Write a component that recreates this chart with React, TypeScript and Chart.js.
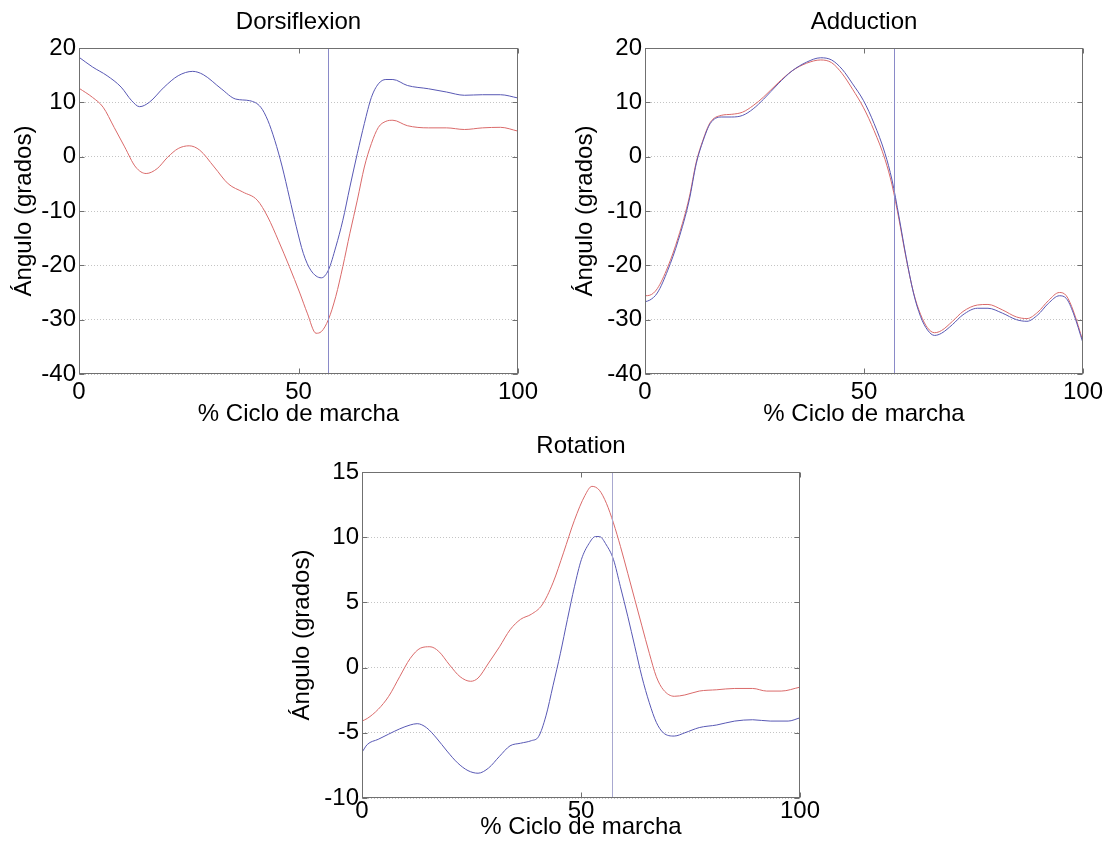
import React, { useEffect, useRef } from "react";
import { Chart, registerables } from "chart.js";
Chart.register(...registerables);

const FONT = "'Liberation Sans', Arial, Helvetica, sans-serif";
const BLUE = "#5858b4";
const RED = "#da6a6a";

const pctTicks = [0, 50, 100];
const toeOffPct = [56.8, 56.8, 57];
const titles = ["Dorsiflexion", "Adduction", "Rotation"];
const xTitle = "% Ciclo de marcha";
const yTitle = "Ángulo (grados)";

// Dorsiflexion
const dorsiBlueX = [0, 3.1, 6.4, 9.6, 12, 13.8, 16, 19.4, 22.6, 25.9, 28.3, 32.4, 35.7, 38.9, 41.4, 43, 44.6, 46.3, 47.9, 49.5, 51.1, 52.8, 55.2, 56.8, 58.5, 60.1, 61.7, 63.4, 65, 66.6, 68.2, 69.9, 71.5, 74.8, 79.6, 83.7, 87.8, 91.9, 96, 100];
const dorsiBlueY = [18.3, 16.5, 14.9, 12.8, 10.3, 9.2, 10, 12.8, 14.9, 15.7, 15.1, 12.5, 10.6, 10.3, 9.1, 6.7, 3, -1.9, -7.4, -12.9, -17.8, -20.9, -22.3, -20.9, -16.6, -11.7, -5.6, 0.6, 6.1, 10.9, 13.4, 14.2, 14.2, 13.1, 12.5, 11.9, 11.3, 11.4, 11.4, 10.8];
const dorsiRedX = [0, 3.1, 5.5, 8, 10.4, 12.9, 15.3, 17.8, 20.2, 22.6, 25.1, 27.5, 30.8, 34, 37.3, 40.6, 43, 45.4, 47.9, 50.3, 52, 54, 55.2, 56.8, 58.5, 60.1, 61.7, 63.4, 65, 66.6, 68.2, 69.9, 71.5, 74.8, 79.6, 83.7, 87.8, 91.9, 96, 100];
const dorsiRedY = [12.6, 10.9, 9.1, 5.4, 1.8, -1.9, -3.1, -2.2, -0.1, 1.5, 2, 1.2, -1.9, -5, -6.5, -8, -11.1, -15.4, -20.2, -25.1, -28.8, -32.5, -32.2, -30, -25.7, -20.2, -14.1, -8, -1.9, 2.4, 5.4, 6.5, 6.7, 5.7, 5.3, 5.3, 5, 5.3, 5.4, 4.7];

// Adduction
const adducX = [0, 1.1, 2.8, 5.2, 7.6, 10.1, 11.7, 13.3, 14.9, 17.4, 19.8, 22.3, 24.7, 27.1, 30.4, 33.6, 36.9, 40.1, 42.6, 45, 47.4, 49.9, 52.3, 54.8, 56.4, 58, 59.6, 61.3, 62.9, 64.5, 66.1, 67.7, 70.2, 72.6, 75.9, 78.3, 81.6, 84.8, 87.2, 89.7, 92.1, 94.6, 96.2, 97.8, 100];
const adducBlueY = [-26.7, -26.4, -25.1, -20.9, -15.4, -8, -1.3, 3, 6.1, 7.3, 7.3, 7.6, 8.8, 10.6, 13.4, 15.8, 17.4, 18.2, 17.8, 16.1, 13.4, 10.3, 6.1, 0.6, -4.3, -11.1, -18.4, -25.1, -29.4, -31.9, -32.9, -32.5, -30.9, -29.1, -27.9, -27.9, -28.8, -30, -30.3, -29.1, -27, -25.6, -26.1, -28.8, -34.3];
const adducRedY = [-25.6, -25.5, -24.3, -20.3, -14.8, -7.5, -1.0, 3.2, 6.3, 7.6, 7.8, 8.2, 9.4, 11.0, 13.6, 15.8, 17.2, 17.8, 17.3, 15.3, 12.4, 9.0, 4.8, -0.5, -5.2, -11.6, -18.6, -25.0, -29.0, -31.5, -32.4, -32.0, -30.3, -28.5, -27.3, -27.2, -28.2, -29.5, -29.8, -28.6, -26.5, -25.0, -25.6, -28.4, -34.0];

// Rotation
const rotRedX = [0, 1.2, 3.7, 6.1, 8.6, 11, 13.4, 15.5, 17.5, 20, 22.4, 24.8, 26.5, 28.9, 31.4, 33.8, 36.2, 38.7, 41.1, 43.6, 46, 48.5, 50.9, 52.5, 54.2, 55.8, 57.4, 59, 60.7, 62.3, 63.9, 65.6, 67.2, 68.8, 71.3, 73.7, 77, 81, 85.1, 89.2, 92.4, 95.7, 100];
const rotRedY = [-4.1, -3.9, -3.2, -2.2, -0.7, 0.7, 1.5, 1.6, 1.25, 0.2, -0.7, -1.05, -0.8, 0.35, 1.6, 2.9, 3.7, 4.1, 4.8, 6.5, 8.8, 11.3, 13.2, 13.9, 13.6, 12.6, 11.1, 9.3, 7.2, 5.2, 3.2, 1.1, -0.7, -1.7, -2.2, -2.1, -1.8, -1.7, -1.6, -1.6, -1.8, -1.8, -1.5];
const rotBlueX = [0, 1.2, 3.7, 6.1, 8.6, 11, 12.6, 14.7, 17, 19.4, 21.8, 24.2, 26.5, 28.9, 31.4, 33.8, 36.2, 38.7, 40.3, 42, 43.6, 45.3, 46.9, 48.5, 50.1, 51.8, 53.3, 54.2, 55.8, 57.4, 59, 60.7, 62.3, 63.9, 65.6, 67.2, 68.8, 71.3, 73.7, 77, 81, 85.1, 89.2, 93.2, 97.3, 100];
const rotBlueY = [-6.5, -5.9, -5.5, -5.1, -4.7, -4.4, -4.3, -4.6, -5.4, -6.4, -7.3, -7.9, -8.1, -7.7, -6.8, -6.0, -5.8, -5.6, -5.3, -3.7, -1.4, 1.1, 3.7, 6.2, 8.3, 9.5, 10.05, 10.05, 9.4, 8.3, 6.2, 3.9, 1.6, -0.7, -2.7, -4.2, -5.0, -5.25, -5.0, -4.6, -4.4, -4.1, -4.0, -4.1, -4.1, -3.85];

const zip = (xs: number[], ys: number[]) => xs.map((x, i) => ({ x, y: ys[i] }));

type PanelProps = {
  left: number; top: number; width: number; height: number;
  cLeft: number; cTop: number; cRight: number; cBottom: number;
  title: string; titleY: number;
  yMin: number; yMax: number; yStep: number;
  blue: { x: number; y: number }[]; red: { x: number; y: number }[];
  vline: number; vlineColor: string;
  yTitleX: number; xTickPad: number; xTitleY: number;
};

const FS = 24;
const LH = FS * 1.2;

function Panel(p: PanelProps) {
  const ref = useRef<HTMLCanvasElement>(null);
  useEffect(() => {
    const canvas = ref.current!;
    const yTitlePad = p.yTitleX - p.left - LH / 2;
    const xTitlePad = p.top + p.height - p.xTitleY - LH / 2;

    const boxPlugin = {
      id: "box",
      afterDatasetsDraw(chart: any) {
        const { ctx, chartArea: a, scales } = chart;
        ctx.save();
        // toe-off marker
        const vx = Math.round(scales.x.getPixelForValue(p.vline)) + 0.5;
        ctx.strokeStyle = p.vlineColor;
        ctx.lineWidth = 1;
        ctx.beginPath();
        ctx.moveTo(vx, a.top);
        ctx.lineTo(vx, a.bottom);
        ctx.stroke();
        // axes box
        ctx.strokeStyle = "#707070";
        const l = Math.round(a.left) + 0.5, r = Math.round(a.right) - 0.5;
        const t = Math.round(a.top) + 0.5, b = Math.round(a.bottom) - 0.5;
        ctx.strokeRect(l, t, r - l, b - t);
        // inward tick marks
        const tl = 5;
        ctx.beginPath();
        scales.y.ticks.forEach((tk: any) => {
          const y = Math.round(scales.y.getPixelForValue(tk.value)) + 0.5;
          ctx.moveTo(l, y); ctx.lineTo(l + tl, y);
          ctx.moveTo(r, y); ctx.lineTo(r - tl, y);
        });
        scales.x.ticks.forEach((tk: any) => {
          const x = Math.round(scales.x.getPixelForValue(tk.value)) + 0.5;
          ctx.moveTo(x, t); ctx.lineTo(x, t + tl);
          ctx.moveTo(x, b); ctx.lineTo(x, b - tl);
        });
        ctx.stroke();
        // panel title centred over the axes
        ctx.fillStyle = "#000";
        ctx.font = `${FS}px ${FONT}`;
        ctx.textAlign = "center";
        ctx.textBaseline = "middle";
        ctx.fillText(p.title, (a.left + a.right) / 2, p.titleY - p.top);
        ctx.restore();
      },
    };

    const chart = new Chart(canvas, {
      type: "line",
      data: {
        datasets: [
          { data: p.blue, borderColor: BLUE, borderWidth: 1, pointRadius: 0, tension: 0.4, cubicInterpolationMode: "monotone", fill: false },
          { data: p.red, borderColor: RED, borderWidth: 1, pointRadius: 0, tension: 0.4, cubicInterpolationMode: "monotone", fill: false },
        ],
      },
      options: {
        animation: false,
        responsive: false,
        devicePixelRatio: 1,
        layout: { padding: { left: 0, top: p.cTop - p.top, right: p.left + p.width - p.cRight, bottom: 0 } },
        plugins: {
          legend: { display: false },
          tooltip: { enabled: false },
          title: { display: false },
        },
        scales: {
          x: {
            type: "linear",
            min: 0,
            max: 100,
            afterBuildTicks: (s: any) => { s.ticks = pctTicks.map((v) => ({ value: v })); },
            afterFit: (s: any) => { s.height = p.top + p.height - p.cBottom; },
            grid: { display: false, drawTicks: false },
            border: { display: false },
            ticks: { color: "#000", font: { family: FONT, size: FS }, padding: p.xTickPad, maxRotation: 0 },
            title: { display: true, text: xTitle, color: "#000", font: { family: FONT, size: FS }, padding: { top: 0, bottom: xTitlePad } },
          },
          y: {
            type: "linear",
            min: p.yMin,
            max: p.yMax,
            ticks: { stepSize: p.yStep, color: "#000", font: { family: FONT, size: FS }, padding: 3 },
            afterFit: (s: any) => { s.width = p.cLeft - p.left; },
            grid: { color: "#c4c4c4", lineWidth: 1, drawTicks: false },
            border: { display: false, dash: [1, 2] },
            title: { display: true, text: yTitle, color: "#000", font: { family: FONT, size: FS }, padding: { top: yTitlePad, bottom: 0 } },
          },
        },
      } as any,
      plugins: [boxPlugin],
    });
    return () => chart.destroy();
  }, []);
  return (
    <div style={{ position: "absolute", left: p.left, top: p.top, width: p.width, height: p.height }}>
      <canvas ref={ref} width={p.width} height={p.height} style={{ display: "block", width: p.width, height: p.height }} />
    </div>
  );
}

export default function App() {
  return (
    <div style={{ position: "absolute", left: 0, top: 0, width: 1108, height: 852, background: "#fff", overflow: "hidden" }}>
      <Panel left={0} top={0} width={550} height={434} cLeft={79} cTop={48} cRight={518} cBottom={374}
        title={titles[0]} titleY={22} yMin={-40} yMax={20} yStep={10}
        blue={zip(dorsiBlueX, dorsiBlueY)} red={zip(dorsiRedX, dorsiRedY)}
        vline={toeOffPct[0]} vlineColor="#8a8ac8" yTitleX={24} xTickPad={4} xTitleY={414} />
      <Panel left={558} top={0} width={550} height={434} cLeft={645} cTop={48} cRight={1083} cBottom={374}
        title={titles[1]} titleY={22} yMin={-40} yMax={20} yStep={10}
        blue={zip(adducX, adducBlueY)} red={zip(adducX, adducRedY)}
        vline={toeOffPct[1]} vlineColor="#8a8ac8" yTitleX={585} xTickPad={4} xTitleY={414} />
      <Panel left={268} top={422} width={562} height={430} cLeft={362} cTop={472} cRight={800} cBottom={798}
        title={titles[2]} titleY={446} yMin={-10} yMax={15} yStep={5}
        blue={zip(rotBlueX, rotBlueY)} red={zip(rotRedX, rotRedY)}
        vline={toeOffPct[2]} vlineColor="#a8a8d0" yTitleX={302} xTickPad={-1} xTitleY={827} />
    </div>
  );
}
